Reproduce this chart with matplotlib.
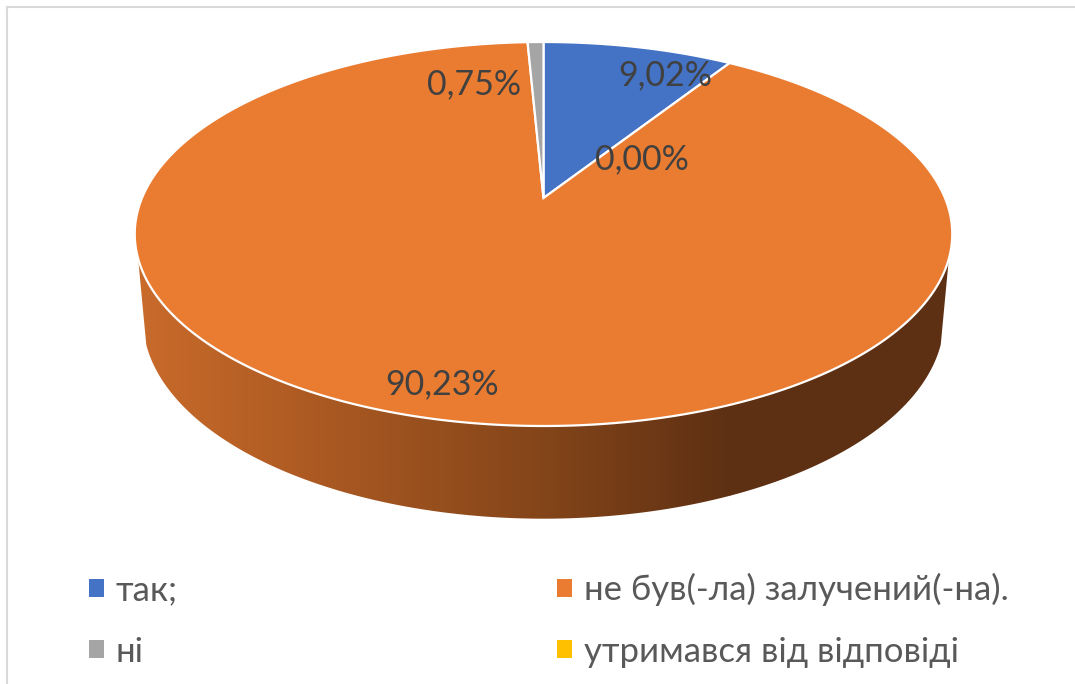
import numpy as np
import matplotlib
matplotlib.use("Agg")
import matplotlib.pyplot as plt
from matplotlib.colors import LinearSegmentedColormap
from matplotlib.patches import Patch, Polygon

plt.rcParams['font.family'] = ['Lato', 'DejaVu Sans']

categories = ["так;", "не був(-ла) залучений(-на).", "ні", "утримався від відповіді"]
values = [9.02, 90.23, 0.75, 0.00]
colors = ["#4472C4", "#EA7C31", "#A5A5A5", "#FFC000"]
# where excel left the data labels, in pixels
label_pos = [(665, 75), (442, 384), (474, 84), (642, 159)]

# tilted disc: apex sits above the middle of the ellipse because of perspective
cx, cy = 543.5, 198
a, b, k = 401.5, 185.25, 0.1875


def project(theta):
    # theta in radians, clockwise from the top
    X, Y = np.sin(theta), np.cos(theta)
    w = 1 + k * Y
    return cx + a * X / w, cy - b * Y / w


def rim_bottom(x, y):
    # the lower rim of the wall is a bit narrower and deeper
    return cx + (x - cx) * 0.98, 319 + (y - 234) * 1.04


fig = plt.figure(figsize=(10.75, 6.84), dpi=100)
ax = fig.add_axes([0, 0, 1, 1])

# side wall with the dark gradient
th = np.linspace(np.pi * 0.6, np.pi * 1.4, 300)
xt, yt = project(th)
xb, yb = rim_bottom(xt, yt)
wall = Polygon(np.vstack([np.column_stack([xt, yt]),
                          np.column_stack([xb, yb])[::-1]]),
               closed=True, fc="none", ec="none", transform=ax.transData)
ax.add_patch(wall)
cmap = LinearSegmentedColormap.from_list(
    "wall", [(0, "#C96B2B"), (0.28, "#AE5B23"), (0.7, "#824419"), (1, "#5E3013")])
img = ax.imshow(np.linspace(0, 1, 256)[None, :], cmap=cmap, aspect="auto",
                extent=(137, 730, 530, 230), zorder=1)
img.set_clip_path(wall)
ax.fill([730, 960, 960, 730], [230, 230, 530, 530], color="#5E3013", zorder=1,
        clip_path=wall)

# top face
edges = np.concatenate([[0], np.cumsum(values)]) / np.sum(values) * 2 * np.pi
for i, col in enumerate(colors):
    if values[i] == 0:
        continue
    t = np.linspace(edges[i], edges[i + 1], 400)
    x, y = project(t)
    ax.fill(np.r_[cx, x], np.r_[cy, y], fc=col, ec="white", lw=1.6, zorder=2,
            joinstyle="miter")

for v, (lx, ly) in zip(values, label_pos):
    ax.text(lx, ly, f"{v:.2f}%".replace(".", ","), fontsize=24.5, color="#404040",
            ha="center", va="center", zorder=3)

# frame of the pasted chart, only top and left show
ax.plot([7, 7], [7, 684], color="#D9D9D9", lw=1.5, zorder=0)
ax.plot([7, 1075], [7, 7], color="#D9D9D9", lw=1.5, zorder=0)

order = [0, 2, 1, 3]
handles = [Patch(fc=colors[i], ec="none") for i in order]
ax.legend(handles, [categories[i] for i in order], ncol=2, frameon=False,
          loc="upper left", bbox_to_anchor=(89, 573), bbox_transform=ax.transData,
          fontsize=25, labelcolor="#595959", handlelength=0.43, handleheight=0.43,
          handletextpad=0.34, columnspacing=10.92, labelspacing=0.85,
          borderpad=0, borderaxespad=0)

ax.set_xlim(0, 1075)
ax.set_ylim(684, 0)
ax.axis("off")
fig.savefig("out.png", dpi=100)
